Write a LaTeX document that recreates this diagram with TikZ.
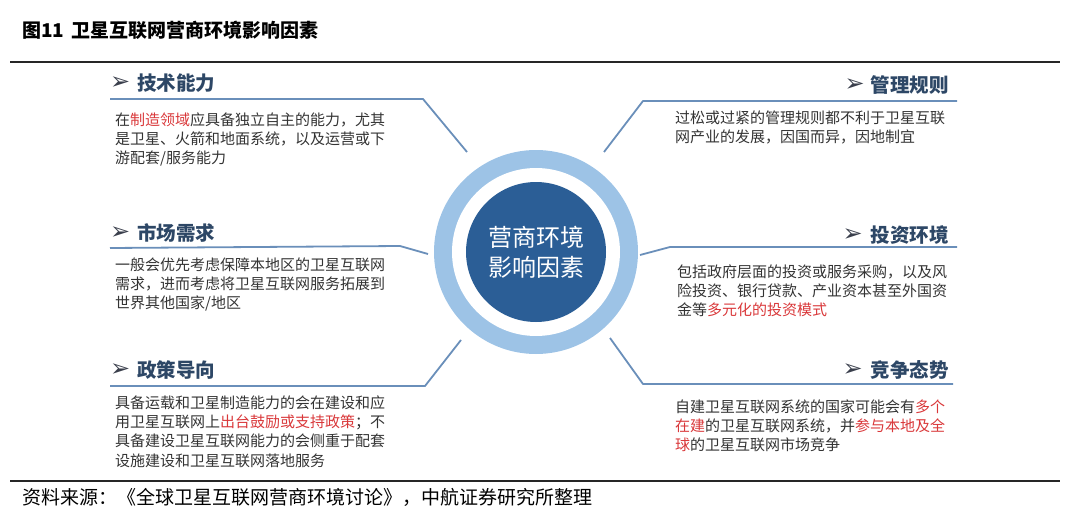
\documentclass[tikz,border=0pt]{standalone}
\usepackage{fontspec}
\setmainfont{Noto Sans CJK SC}
\newfontfamily\symf{DejaVu Sans}
\definecolor{ringc}{HTML}{9DC3E6}
\definecolor{corec}{HTML}{2B5E96}
\definecolor{linec}{HTML}{6A8FBA}
\definecolor{headc}{HTML}{2D4766}
\definecolor{txtc}{HTML}{333333}
\definecolor{redc}{HTML}{D9383A}
\definecolor{arrc}{HTML}{3A3F4C}
\newcommand{\rd}[1]{\textcolor{redc}{#1}}
\tikzset{
  head/.style={inner sep=0pt, font=\fontsize{19.5}{22}\selectfont\bfseries, text=headc},
  arr/.style={inner sep=0pt, font=\symf\fontsize{24}{26}\selectfont, text=arrc},
  body/.style={inner sep=0pt, anchor=north west, align=left, text=txtc, font=\fontsize{15}{19.2}\selectfont},
  spoke/.style={draw=linec, line width=1.8pt, line join=round}
}
\begin{document}
\begin{tikzpicture}[x=1pt,y=-1pt]
\useasboundingbox (0,0) rectangle (1080,514);
% title and rules
\node[anchor=west, inner sep=0pt, font=\fontsize{19}{21}\selectfont\bfseries] (title) at (22,30) {图11\, 卫星互联网营商环境影响因素};
\draw[line width=1.5pt, black!85] (10,62) -- (1060,62);
\draw[line width=1.2pt, black!85] (10,481) -- (1060,481);
\node[anchor=west, inner sep=0pt, font=\fontsize{19}{21}\selectfont] (src) at (22,497) {资料来源：《全球卫星互联网营商环境讨论》，中航证券研究所整理};
% centre
\fill[ringc] (536,252) circle (102);
\fill[white] (536,252) circle (84);
\node[circle, fill=corec, minimum size=140pt, inner sep=0pt, align=center, text=white, font=\fontsize{24}{30}\selectfont] (core) at (536,252) {营商环境\\影响因素};
% spokes / underlines
\draw[spoke] (110,99) -- (423,99) -- (467,152);
\draw[spoke] (957,101) -- (643,101) -- (604,152);
\draw[spoke] (110,248) -- (400,246) -- (428,254);
\draw[spoke] (957,247) -- (670,247) -- (640,255);
\draw[spoke] (110,386) -- (425,386) -- (461,340);
\draw[spoke] (953,384) -- (643,384) -- (610,338);
% headers left
\node[arr, anchor=west] (a1) at (110,83) {➢};
\node[head, anchor=west] (h1) at (137,83) {技术能力};
\node[arr, anchor=west] (a2) at (110,233) {➢};
\node[head, anchor=west] (h2) at (137,233) {市场需求};
\node[arr, anchor=west] (a3) at (110,370) {➢};
\node[head, anchor=west] (h3) at (137,370) {政策导向};
% headers right
\node[head, anchor=east] (h4) at (949,85) {管理规则};
\node[arr, anchor=east] (a4) at (865,85) {➢};
\node[head, anchor=east] (h5) at (949,235) {投资环境};
\node[arr, anchor=east] (a5) at (863,235) {➢};
\node[head, anchor=east] (h6) at (949,370) {竞争态势};
\node[arr, anchor=east] (a6) at (863,370) {➢};
% bodies
\node[body] (b1) at (115,112.5) {在\rd{制造领域}应具备独立自主的能力，尤其\\是卫星、火箭和地面系统，以及运营或下\\游配套/服务能力};
\node[body] (b2) at (115,257.5) {一般会优先考虑保障本地区的卫星互联网\\需求，进而考虑将卫星互联网服务拓展到\\世界其他国家/地区};
\node[body] (b3) at (115,395.5) {具备运载和卫星制造能力的会在建设和应\\用卫星互联网上\rd{出台鼓励或支持政策}；不\\具备建设卫星互联网能力的会侧重于配套\\设施建设和卫星互联网落地服务};
\node[body] (b4) at (675,110.5) {过松或过紧的管理规则都不利于卫星互联\\网产业的发展，因国而异，因地制宜};
\node[body] (b5) at (677,264.5) {包括政府层面的投资或服务采购，以及风\\险投资、银行贷款、产业资本甚至外国资\\金等\rd{多元化的投资模式}};
\node[body] (b6) at (675,399.5) {自建卫星互联网系统的国家可能会有\rd{多个}\\\rd{在建}的卫星互联网系统，并\rd{参与本地及全}\\\rd{球}的卫星互联网市场竞争};
\end{tikzpicture}
\end{document}
